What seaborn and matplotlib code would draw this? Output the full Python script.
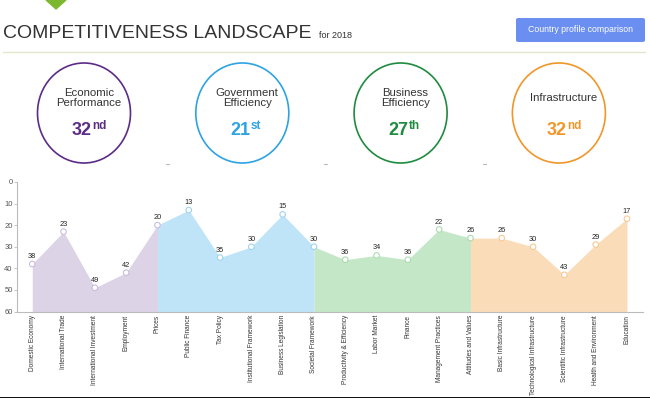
"""Competitiveness landscape — sub-factor ranks for 2018."""
import matplotlib
matplotlib.use("Agg")
import matplotlib.pyplot as plt
from matplotlib.patches import Ellipse, FancyBboxPatch, Polygon, Rectangle
import numpy as np
import pandas as pd
import seaborn as sns

# ── data ──────────────────────────────────────────────────────────────────────
factors = ["Economic\nPerformance", "Government\nEfficiency",
           "Business\nEfficiency", "Infrastructure"]
factor_rank = [32, 21, 27, 32]
factor_suffix = ["nd", "st", "th", "nd"]

subfactors = [
    "Domestic Economy", "International Trade", "International Investment",
    "Employment", "Prices",
    "Public Finance", "Tax Policy", "Institutional Framework",
    "Business Legislation", "Societal Framework",
    "Productivity & Efficiency", "Labor Market", "Finance",
    "Management Practices", "Attitudes and Values",
    "Basic Infrastructure", "Technological Infrastructure",
    "Scientific Infrastructure", "Health and Environment", "Education",
]
ranks = [38, 23, 49, 42, 20,
         13, 35, 30, 15, 30,
         36, 34, 36, 22, 26,
         26, 30, 43, 29, 17]
group = ["Economic Performance"] * 5 + ["Government Efficiency"] * 5 \
      + ["Business Efficiency"] * 5 + ["Infrastructure"] * 5

# ── style ─────────────────────────────────────────────────────────────────────
DARK   = ["#5b2c87", "#2ea3e2", "#1f8b3f", "#f0962a"]
FILL   = ["#ddd3e7", "#bfe4f8", "#c4e7c8", "#fbdcb9"]
EDGE   = ["#cbbbdd", "#9fd3f0", "#a9dcae", "#f6c995"]

W, H = 650, 398

sns.set_theme(style="white")
plt.rcParams["font.family"] = ["Liberation Sans", "DejaVu Sans"]


def fx(x):
    return x / W


def fy(y):
    return 1 - y / H


fig = plt.figure(figsize=(W / 100, H / 100), dpi=100)

# ── header ────────────────────────────────────────────────────────────────────
fig.patches.append(Polygon([(fx(46), fy(0)), (fx(66), fy(0)), (fx(56), fy(9))],
                           closed=True, transform=fig.transFigure,
                           color="#7cb82f"))
fig.text(fx(3), fy(33), "COMPETITIVENESS LANDSCAPE", fontsize=14,
         color="#333333", va="center", ha="left")
fig.text(fx(319), fy(36), "for 2018", fontsize=6.5, color="#333333",
         va="center", ha="left")
fig.patches.append(FancyBboxPatch((fx(516), fy(42)), fx(129), 24 / H,
                                  boxstyle="round,pad=0,rounding_size=0.004",
                                  transform=fig.transFigure,
                                  color="#6b8ff0", lw=0))
fig.text(fx(580.5), fy(30), "Country profile comparison", fontsize=6.3,
         color="white", ha="center", va="center")
fig.lines.append(plt.Line2D([fx(3), fx(645)], [fy(52), fy(52)],
                            transform=fig.transFigure, color="#e3e7cc", lw=1))

# ── factor circles ────────────────────────────────────────────────────────────
for i, (name, r, suf) in enumerate(zip(factors, factor_rank, factor_suffix)):
    cx = 84 + i * 158.3
    tx = cx + 5
    fig.patches.append(Ellipse((fx(cx), fy(113)), 93 / W, 100 / H,
                               transform=fig.transFigure, fill=False,
                               edgecolor=DARK[i], lw=1.2))
    fig.text(fx(tx), fy(98), name, fontsize=8.2, color="#333333",
             ha="center", va="center", linespacing=1.05)
    fig.text(fx(tx + 3), fy(131), str(r), fontsize=13, fontweight="bold",
             color=DARK[i], ha="right", va="center")
    fig.text(fx(tx + 3), fy(126), suf, fontsize=8.5, fontweight="bold",
             color=DARK[i], ha="left", va="center")
    if i < 3:
        fig.lines.append(plt.Line2D([fx(cx + 82), fx(cx + 85)],
                                    [fy(164), fy(164)],
                                    transform=fig.transFigure,
                                    color="#b8b8b8", lw=0.8))

# ── sub-factor area chart ─────────────────────────────────────────────────────
df = pd.DataFrame({"subfactor": subfactors, "rank": ranks, "group": group})
df["pos"] = np.arange(len(df))

ax = fig.add_axes([fx(16.6), fy(311.5), (642.6 - 16.6) / W, (311.5 - 182) / H])

for g in range(4):
    lo, hi = g * 5 - (1 if g else 0), g * 5 + 4
    seg = df.iloc[max(lo, 0):hi + 1]
    ax.fill_between(seg["pos"], seg["rank"], 60, color=FILL[g], lw=0)

sns.scatterplot(data=df, x="pos", y="rank", color="white", s=16,
                edgecolor=[EDGE[k // 5] for k in range(len(df))],
                linewidth=0.8, ax=ax, zorder=3, legend=False)

for p, v in zip(df["pos"], df["rank"]):
    ax.text(p, v - 1.8, str(v), fontsize=5.3, color="#222222",
            ha="center", va="bottom")

ax.set_xlim(-0.5, len(df) - 0.5)
ax.set_ylim(60, 0)
ax.set_yticks(range(0, 61, 10))
ax.set_xticks(df["pos"])
ax.set_xticklabels(df["subfactor"], rotation=90, fontsize=4.7,
                   color="#333333", va="top")
ax.set_xticks(np.arange(-0.5, len(df), 1), minor=True)
ax.tick_params(axis="x", which="major", length=0, pad=2.5)
ax.tick_params(axis="x", which="minor", length=3, color="#bbbbbb", width=0.6)
ax.tick_params(axis="y", length=2, color="#bbbbbb", width=0.6,
               labelsize=5.5, labelcolor="#555555", pad=0.8, left=True)
ax.set_xlabel(""); ax.set_ylabel("")
for s in ["top", "right"]:
    ax.spines[s].set_visible(False)
for s in ["left", "bottom"]:
    ax.spines[s].set_color("#bbbbbb")
    ax.spines[s].set_linewidth(0.8)

fig.patches.append(Rectangle((0, 0), 1, 1.5 / H, transform=fig.transFigure,
                             color="#111111", lw=0))

fig.savefig("out.png", dpi=100)
